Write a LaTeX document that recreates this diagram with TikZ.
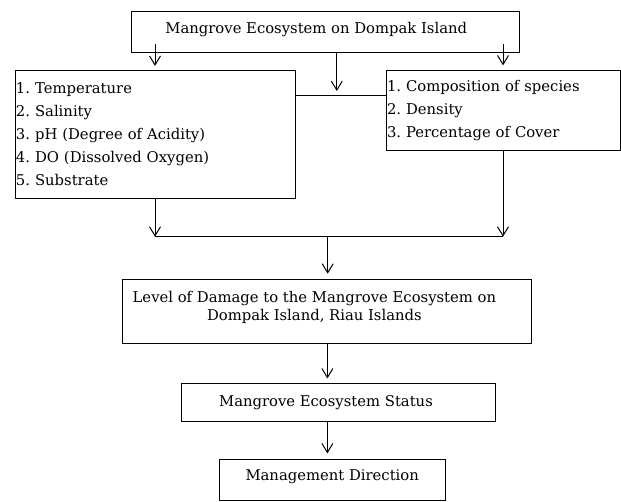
\documentclass[tikz,border=0pt]{standalone}
\usepackage{fontspec}
\setmainfont{DejaVu Serif}
\usepackage{tikz}
\usetikzlibrary{arrows.meta}
\frenchspacing
\tikzstyle{arrow} = [line width=1pt,-{Straight Barb[length=9pt,width=11pt]}]
\tikzstyle{line} = [line width=1pt]
\tikzstyle{box} = [rectangle, draw=black, line width=1pt, inner sep=1pt, font=\fontsize{14.8}{18}\selectfont]
\tikzstyle{listbox} = [box, align=left, font=\fontsize{14.8}{23}\selectfont]
\tikzstyle{padright} = [execute at end node={\hspace{#1}}]

\begin{document}
\begin{tikzpicture}[x=1pt,y=1pt]
	\useasboundingbox (0,0) rectangle (621,-502);
	\node[box, padright=19pt, text depth=9.5pt, minimum width=388pt, minimum height=41pt] (eco) at (325.8,-32.2) {Mangrove Ecosystem on Dompak Island};
	\node[listbox, text width=278pt, minimum height=128pt] (param) at (155,-134.4) {1. Temperature\\2. Salinity\\3. pH (Degree of Acidity)\\4. DO (Dissolved Oxygen)\\5. Substrate};
	\node[listbox, text width=232pt, minimum height=80pt] (cover) at (503,-110.9) {1. Composition of species\\2. Density\\3. Percentage of Cover};
	\node[box, align=center, text depth=10.5pt, minimum width=409pt, minimum height=64pt] (damage) at (327.4,-311.2) {Level of Damage to the Mangrove Ecosystem on\kern26pt\\Dompak Island, Riau Islands\kern26pt};
	\node[box, padright=24pt, minimum width=314pt, minimum height=37pt] (status) at (338,-402.5) {Mangrove Ecosystem Status};
	\node[box, text depth=11.5pt, minimum width=226pt, minimum height=41pt] (mgmt) at (332.2,-480.4) {Management Direction};
	\coordinate (mid) at ([xshift=11pt]eco.south |- 0,-96);
	\coordinate (merge) at (327.7,-236.7);
	\draw[arrow] ([yshift=9pt]eco.south -| param.north) -- ([yshift=4pt]param.north);
	\draw[arrow] ([yshift=9pt]eco.south -| cover.north) -- ([yshift=5pt]cover.north);
	\draw[arrow] ([xshift=11pt]eco.south) -- ([yshift=5pt]mid);
	\draw[line] (param.east |- mid) -- (cover.west |- mid);
	\draw[arrow] (param.south) -- (param.south |- merge);
	\draw[arrow] (cover.south) -- (cover.south |- merge);
	\draw[line] (param.south |- merge) -- (cover.south |- merge);
	\draw[arrow] (merge) -- ([yshift=5pt]damage.north -| merge);
	\draw[arrow] (damage.south) -- ([yshift=5pt]status.north -| damage.south);
	\draw[arrow] (status.south -| damage.south) -- ([yshift=6pt]mgmt.north -| damage.south);
\end{tikzpicture}
\end{document}
